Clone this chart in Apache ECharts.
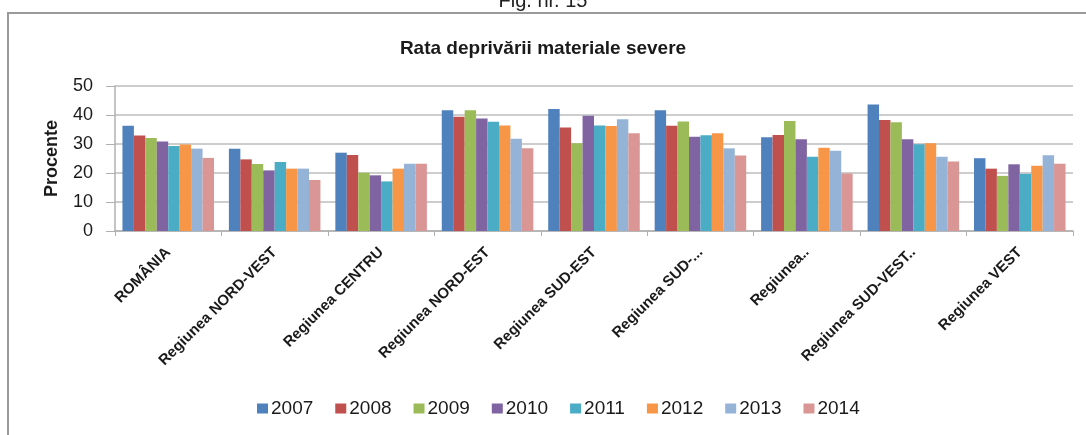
<!DOCTYPE html>
<html>
<head>
<meta charset="utf-8">
<script src="https://cdn.jsdelivr.net/npm/echarts@6/dist/echarts.min.js"></script>
<style>
  html, body { margin: 0; padding: 0; background: #fff; }
  #chart { width: 1086px; height: 435px; }
</style>
</head>
<body>
<div id="chart"></div>
<script>
// regiuni (etichete trunchiate ca in original)
const regions = [
  'ROMÂNIA', 'Regiunea NORD-VEST', 'Regiunea CENTRU', 'Regiunea NORD-EST',
  'Regiunea SUD-EST', 'Regiunea SUD-...', 'Regiunea..', 'Regiunea SUD-VEST..', 'Regiunea VEST'
]
const years = ['2007', '2008', '2009', '2010', '2011', '2012', '2013', '2014']
const yTicks = [0, 10, 20, 30, 40, 50]

// valori, pe ani
const v2007 = [36.3, 28.4, 27.0, 41.6, 42.1, 41.6, 32.3, 43.6, 25.1]
const v2008 = [32.9, 24.7, 26.2, 39.4, 35.7, 36.3, 33.1, 38.3, 21.5]
const v2009 = [32.1, 23.1, 20.1, 41.6, 30.3, 37.8, 37.9, 37.5, 19.0]
const v2010 = [30.9, 20.9, 19.2, 38.8, 39.7, 32.5, 31.6, 31.6, 23.0]
const v2011 = [29.3, 23.8, 17.1, 37.7, 36.4, 33.0, 25.6, 29.9, 19.7]
const v2012 = [29.8, 21.5, 21.5, 36.4, 36.2, 33.7, 28.7, 30.3, 22.5]
const v2013 = [28.4, 21.5, 23.2, 31.8, 38.5, 28.5, 27.7, 25.6, 26.1]
const v2014 = [25.2, 17.6, 23.2, 28.5, 33.7, 26.0, 19.8, 24.0, 23.2]
const values = [v2007, v2008, v2009, v2010, v2011, v2012, v2013, v2014]

const colors = ['#4F81BD', '#C0504D', '#9BBB59', '#8064A2', '#4BACC6', '#F79646', '#95B3D7', '#D99694']
const TextColor = '#1a1a1a'

const chart = echarts.init(document.getElementById('chart'), null, { renderer: 'canvas' })

const option = {
  animation: false,
  color: colors,
  textStyle: { fontFamily: 'Arial, "Liberation Sans", sans-serif' },
  graphic: [
    {
      type: 'rect',
      shape: { x: 8, y: 13, width: 1100, height: 440 },
      style: { fill: 'none', stroke: '#9a9a9a', lineWidth: 2 }
    },
    {
      type: 'text',
      left: 'center',
      top: -9,
      style: { text: 'Fig. nr. 15', fontSize: 20, fill: '#222', fontFamily: 'Arial, "Liberation Sans", sans-serif' }
    }
  ],
  title: {
    text: 'Rata deprivării materiale severe',
    left: 'center',
    top: 34,
    textStyle: {
      fontFamily: '"Liberation Sans Narrow", "Arial Narrow", sans-serif',
      fontWeight: 'bold',
      fontSize: 19,
      color: TextColor
    }
  },
  legend: {
    data: years,
    bottom: 12,
    left: 252,
    icon: 'rect',
    itemWidth: 11,
    itemHeight: 10,
    itemGap: 22,
    textStyle: { fontSize: 19, color: TextColor, padding: [0, 0, 0, -2] }
  },
  grid: {
    left: 115,
    right: 13,
    top: 86,
    bottom: 204
  },
  xAxis: {
    type: 'category',
    data: regions,
    axisLine: { lineStyle: { color: '#b0b0b0', width: 1.5 } },
    axisTick: { show: true, length: 5, lineStyle: { color: '#b0b0b0' } },
    axisLabel: {
      interval: 0,
      rotate: 45,
      margin: 19,
      fontSize: 15,
      fontWeight: 'bold',
      color: TextColor
    }
  },
  yAxis: {
    type: 'value',
    min: yTicks[0],
    max: yTicks[yTicks.length - 1],
    interval: 10,
    name: 'Procente',
    nameLocation: 'middle',
    nameGap: 54,
    nameTextStyle: { fontSize: 18, fontWeight: 'bold', color: TextColor },
    axisLine: { show: true, lineStyle: { color: '#b0b0b0', width: 1.5 } },
    axisTick: { show: true, length: 9, lineStyle: { color: '#b0b0b0' } },
    axisLabel: { fontSize: 18, color: TextColor, margin: 22 },
    splitLine: { lineStyle: { color: '#bcbcbc', width: 1.5 } }
  },
  series: years.map((y, i) => ({
    name: y,
    type: 'bar',
    data: values[i],
    barGap: '0%',
    barCategoryGap: '14%'
  }))
}

chart.setOption(option)
</script>
</body>
</html>
